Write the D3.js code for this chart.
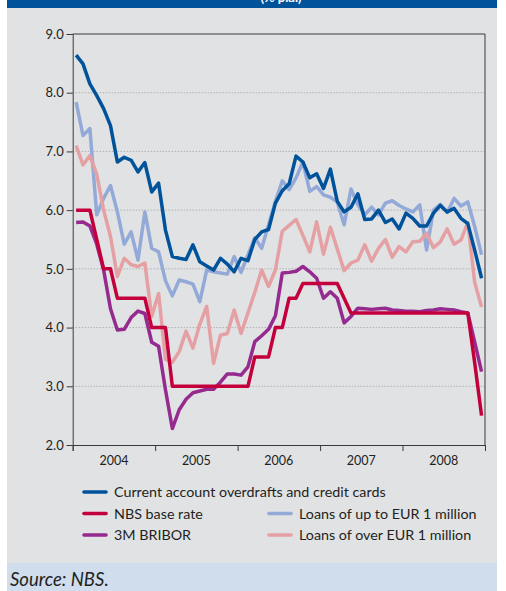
<!DOCTYPE html>
<html>
<head>
<meta charset="utf-8">
<script src="https://cdn.jsdelivr.net/npm/d3@7"></script>
<style>
  html, body { margin: 0; padding: 0; background: #ffffff; }
  svg { display: block; }
  text { font-family: Lato, "Noto Sans", sans-serif; fill: #231f20; }
</style>
</head>
<body>
<svg id="chart" width="506" height="591"></svg>
<script>
// Year labels on the time axis (monthly observations, Jan 2004 – Dec 2008)
const years = ["2004", "2005", "2006", "2007", "2008"];
const yTicks = [2, 3, 4, 5, 6, 7, 8, 9];

// Current account overdrafts and credit cards
const overdrafts = [
  8.64, 8.49, 8.15, 7.95, 7.73, 7.44, 6.82, 6.90, 6.85, 6.65, 6.81, 6.31,
  6.46, 5.66, 5.21, 5.18, 5.16, 5.41, 5.12, 5.05, 4.98, 5.18, 5.08, 4.95,
  5.18, 5.14, 5.50, 5.63, 5.67, 6.12, 6.33, 6.45, 6.92, 6.82, 6.55, 6.62,
  6.37, 6.70, 6.15, 5.97, 6.05, 6.28, 5.84, 5.85, 6.00, 5.79, 5.85, 5.68,
  5.95, 5.86, 5.73, 5.73, 5.95, 6.08, 5.97, 6.03, 5.86, 5.77, 5.32, 4.84
];
// NBS base rate
const baseRate = [
  6.00, 6.00, 6.00, 5.50, 5.00, 5.00, 4.50, 4.50, 4.50, 4.50, 4.50, 4.00,
  4.00, 4.00, 3.00, 3.00, 3.00, 3.00, 3.00, 3.00, 3.00, 3.00, 3.00, 3.00,
  3.00, 3.00, 3.50, 3.50, 3.50, 4.00, 4.00, 4.50, 4.50, 4.75, 4.75, 4.75,
  4.75, 4.75, 4.75, 4.50, 4.25, 4.25, 4.25, 4.25, 4.25, 4.25, 4.25, 4.25,
  4.25, 4.25, 4.25, 4.25, 4.25, 4.25, 4.25, 4.25, 4.25, 4.25, 3.40, 2.50
];
// 3M BRIBOR
const bribor = [
  5.79, 5.80, 5.73, 5.42, 4.98, 4.32, 3.96, 3.97, 4.17, 4.28, 4.24, 3.75,
  3.68, 2.94, 2.28, 2.60, 2.78, 2.89, 2.92, 2.95, 2.95, 3.07, 3.21, 3.21,
  3.19, 3.33, 3.76, 3.86, 3.97, 4.20, 4.93, 4.94, 4.96, 5.04, 4.95, 4.84,
  4.50, 4.61, 4.50, 4.08, 4.19, 4.33, 4.32, 4.31, 4.32, 4.33, 4.30, 4.29,
  4.28, 4.28, 4.27, 4.29, 4.30, 4.32, 4.31, 4.30, 4.27, 4.25, 3.75, 3.25
];
// Loans of up to EUR 1 million
const loansSmall = [
  7.84, 7.27, 7.39, 5.92, 6.20, 6.42, 5.97, 5.42, 5.63, 5.15, 5.97, 5.35,
  5.29, 4.80, 4.54, 4.81, 4.78, 4.74, 4.44, 4.98, 4.95, 4.93, 4.91, 5.21,
  4.94, 5.24, 5.53, 5.35, 5.75, 6.15, 6.50, 6.35, 6.55, 6.82, 6.32, 6.40,
  6.26, 6.22, 6.14, 5.75, 6.36, 6.09, 5.92, 6.05, 5.92, 6.12, 6.16, 6.08,
  6.02, 5.97, 6.09, 5.32, 6.00, 6.10, 5.96, 6.20, 6.07, 6.14, 5.72, 5.24
];
// Loans of over EUR 1 million
const loansLarge = [
  7.10, 6.77, 6.93, 6.61, 6.00, 5.55, 4.87, 5.18, 5.07, 5.04, 5.10, 4.19,
  4.58, 3.46, 3.41, 3.59, 3.94, 3.65, 4.06, 4.36, 3.39, 3.87, 3.90, 4.30,
  3.90, 4.25, 4.60, 4.98, 4.70, 4.98, 5.64, 5.74, 5.84, 5.57, 5.29, 5.80,
  5.25, 5.71, 5.34, 4.97, 5.10, 5.15, 5.41, 5.13, 5.35, 5.50, 5.20, 5.38,
  5.29, 5.46, 5.47, 5.61, 5.36, 5.46, 5.68, 5.42, 5.49, 5.79, 4.77, 4.35
];

const series = [
  { name: "Loans of up to EUR 1 million", values: loansSmall, color: "#93aad8" },
  { name: "Loans of over EUR 1 million", values: loansLarge, color: "#e5a0a3" },
  { name: "3M BRIBOR", values: bribor, color: "#952a8f" },
  { name: "NBS base rate", values: baseRate, color: "#c4003c" },
  { name: "Current account overdrafts and credit cards", values: overdrafts, color: "#00539b" }
];

const svg = d3.select("#chart");

// Page frame: header band, grey panel, source band
svg.append("rect").attr("x", 7).attr("y", 0).attr("width", 490).attr("height", 563).attr("fill", "#e1e2e4");
svg.append("rect").attr("x", 7).attr("y", 0).attr("width", 490).attr("height", 8).attr("fill", "#00529b");
svg.append("rect").attr("x", 7).attr("y", 563).attr("width", 490).attr("height", 28).attr("fill", "#cfdded");

// Title line whose lower edge runs into the header band
svg.append("clipPath").attr("id", "hdrclip")
  .append("rect").attr("x", 7).attr("y", 0).attr("width", 490).attr("height", 8);
svg.append("text")
  .attr("clip-path", "url(#hdrclip)")
  .attr("x", 281).attr("y", 2)
  .attr("text-anchor", "middle")
  .style("fill", "#ffffff")
  .style("font-weight", "bold")
  .style("font-size", "13px")
  .text("(% p.a.)");

const plot = { left: 72.7, right: 485, top: 34, bottom: 445 };

const x = d3.scaleLinear().domain([0, 60]).range([plot.left, plot.right]);
const y = d3.scaleLinear().domain([2, 9]).range([plot.bottom, plot.top]);

// Dotted horizontal gridlines
svg.append("g")
  .selectAll("line")
  .data(yTicks.filter(v => v > 2 && v < 9))
  .join("line")
  .attr("x1", plot.left).attr("x2", plot.right)
  .attr("y1", d => y(d)).attr("y2", d => y(d))
  .attr("stroke", "#9a9a9a")
  .attr("stroke-width", 1)
  .attr("stroke-dasharray", "1,2");

// Top and right frame
svg.append("path")
  .attr("d", `M${plot.left},${plot.top}H${plot.right}V${plot.bottom}`)
  .attr("fill", "none")
  .attr("stroke", "#3a3a3a")
  .attr("stroke-width", 1);

// Y axis
const yAxis = svg.append("g")
  .attr("transform", `translate(${plot.left},0)`)
  .call(d3.axisLeft(y).tickValues(yTicks).tickFormat(d3.format(".1f")).tickSize(6).tickPadding(3));
yAxis.select(".domain").attr("stroke", "#3a3a3a");
yAxis.selectAll(".tick line").attr("stroke", "#3a3a3a");
yAxis.selectAll("text").style("font-size", "13px").style("font-family", "Lato, sans-serif").attr("fill", "#231f20");

// X axis: ticks at year boundaries, labels centred within each year
const xAxis = svg.append("g")
  .attr("transform", `translate(0,${plot.bottom})`)
  .call(d3.axisBottom(x).tickValues(d3.range(0, 61, 12)).tickFormat("").tickSize(6));
xAxis.select(".domain").attr("stroke", "#3a3a3a");
xAxis.selectAll(".tick line").attr("stroke", "#3a3a3a");

svg.append("g")
  .selectAll("text")
  .data(years)
  .join("text")
  .attr("x", (d, i) => x(i * 12 + 6))
  .attr("y", plot.bottom + 20)
  .attr("text-anchor", "middle")
  .style("font-size", "12.5px")
  .text(d => d);

// Series lines, one point per month placed at mid-month
const line = d3.line()
  .x((d, i) => x(i + 0.5))
  .y(d => y(d));

svg.append("g")
  .selectAll("path")
  .data(series)
  .join("path")
  .attr("d", d => line(d.values))
  .attr("fill", "none")
  .attr("stroke", d => d.color)
  .attr("stroke-width", 3.5)
  .attr("stroke-linejoin", "round")
  .attr("stroke-linecap", "butt");

// Legend
const legendItems = [
  { s: series[4], col: 0, row: 0 },
  { s: series[3], col: 0, row: 1 },
  { s: series[2], col: 0, row: 2 },
  { s: series[0], col: 1, row: 1 },
  { s: series[1], col: 1, row: 2 }
];
const lg = svg.append("g").selectAll("g")
  .data(legendItems)
  .join("g")
  .attr("transform", d => `translate(${d.col === 0 ? 84 : 269},${492 + d.row * 21.5})`);
lg.append("line")
  .attr("x1", 0).attr("x2", 22)
  .attr("y1", 0).attr("y2", 0)
  .attr("stroke", d => d.s.color)
  .attr("stroke-width", 3.6)
  .attr("stroke-linecap", "round");
lg.append("text")
  .attr("x", 30).attr("y", 0)
  .attr("dy", "0.35em")
  .style("font-size", "14.3px")
  .text(d => d.s.name);

// Source note
svg.append("text")
  .attr("x", 10).attr("y", 586)
  .style("font-size", "18.5px")
  .style("font-style", "italic")
  .text("Source: NBS.");
</script>
</body>
</html>
